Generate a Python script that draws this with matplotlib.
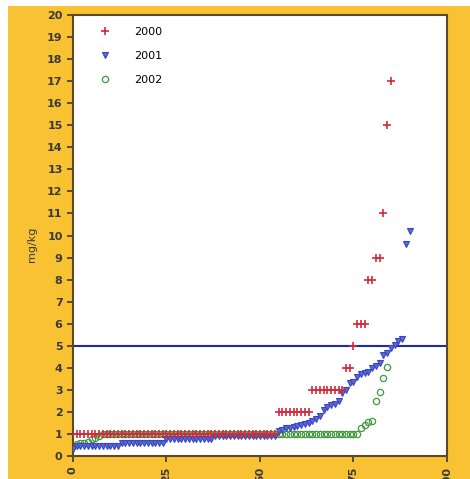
import matplotlib.pyplot as plt
from matplotlib.patches import Rectangle

# valeurs (mg/kg), triées par ordre croissant
y2000 = [1, 1, 1, 1, 1, 1, 1, 1, 1, 1, 1, 1, 1, 1, 1, 1, 1, 1, 1, 1,
         1, 1, 1, 1, 1, 1, 1, 1, 1, 1, 1, 1, 1, 1, 1, 1, 1, 1, 1, 1,
         1, 1, 1, 1, 1, 1, 1, 1, 1, 1, 1, 1, 1, 1, 1,
         2, 2, 2, 2, 2, 2, 2, 2, 2,
         3, 3, 3, 3, 3, 3, 3, 3, 3,
         4, 4, 5, 6, 6, 6, 8, 8, 9, 9, 11, 15, 17]

y2001 = [0.3, 0.45, 0.45, 0.45, 0.45, 0.45, 0.45, 0.45, 0.45, 0.45, 0.45, 0.45, 0.45,
         0.6, 0.6, 0.6, 0.6, 0.6, 0.6, 0.6, 0.6, 0.6, 0.6, 0.6, 0.6,
         0.75, 0.75, 0.75, 0.75, 0.75, 0.75, 0.75, 0.75, 0.75, 0.75, 0.75, 0.75, 0.75,
         0.9, 0.9, 0.9, 0.9, 0.9, 0.9, 0.9, 0.9, 0.9, 0.9, 0.9, 0.9, 0.9, 0.9, 0.9, 0.9, 0.9,
         1.15, 1.2, 1.25, 1.25, 1.3, 1.35, 1.4, 1.45, 1.5, 1.6, 1.7, 1.8,
         2.1, 2.2, 2.3, 2.35, 2.5, 2.85, 3.0, 3.3, 3.35, 3.6, 3.7, 3.75, 3.8,
         4.0, 4.1, 4.2, 4.6, 4.65, 4.9, 5.05, 5.2, 5.3, 9.6, 10.2]

y2002 = [0.45, 0.55, 0.6, 0.6, 0.65, 0.75, 0.8, 0.9,
         1, 1, 1, 1, 1, 1, 1, 1, 1, 1, 1, 1, 1, 1, 1, 1, 1, 1, 1, 1,
         1, 1, 1, 1, 1, 1, 1, 1, 1, 1, 1, 1, 1, 1, 1, 1, 1, 1, 1, 1,
         1, 1, 1, 1, 1, 1, 1, 1, 1, 1, 1, 1, 1, 1, 1, 1, 1, 1, 1, 1,
         1, 1, 1, 1, 1, 1, 1, 1, 1,
         1.25, 1.4, 1.55, 1.6, 2.5, 2.9, 3.55, 4.05]

seuil = 5

fig = plt.figure(figsize=(4.70, 4.79), dpi=100)
fig.patches.append(Rectangle((8 / 470, 0), 1, 473 / 479, transform=fig.transFigure,
                             facecolor='#F8C232', edgecolor='none', zorder=-1))

ax = fig.add_axes([0.1553, 0.048, 0.7957, 0.9207])
ax.set_facecolor('white')

ax.plot(range(len(y2000)), y2000, '+', color='#d42a3c', ms=6, mew=1.2, label='2000', zorder=4)
ax.plot(range(len(y2001)), y2001, 'v', color='#3a46c0', mfc='#5a68d8', ms=4.5, mew=0.8,
        label='2001', zorder=3)
ax.plot(range(len(y2002)), y2002, 'o', color='#3f9a3a', mfc='none', ms=4.5, mew=0.9,
        label='2002', zorder=2)
ax.axhline(seuil, color='#1c2ca8', lw=1.5, zorder=1)

ax.set_xlim(0, 100)
ax.set_ylim(0, 20)
ax.set_xticks([0, 25, 50, 75, 100])
ax.set_yticks(range(0, 21))
ax.tick_params(axis='x', labelrotation=90, labelsize=8, colors='#3a3a3a', length=4, width=1.2)
ax.tick_params(axis='y', labelsize=8, colors='#3a3a3a', length=4, width=1.2)
for lab in ax.get_xticklabels() + ax.get_yticklabels():
    lab.set_fontweight('bold')
ax.set_ylabel('mg/kg', fontsize=8, color='#3a3a3a')
ax.yaxis.set_label_coords(-0.095, 0.48)

for s in ax.spines.values():
    s.set_color('#5a4a2a')
    s.set_linewidth(1.5)

ax.legend(loc='upper left', frameon=False, fontsize=8, labelspacing=1.25,
          handletextpad=1.6, borderaxespad=0.5, bbox_to_anchor=(0.03, 0.995))

fig.savefig('out.png', dpi=100, facecolor='white')
